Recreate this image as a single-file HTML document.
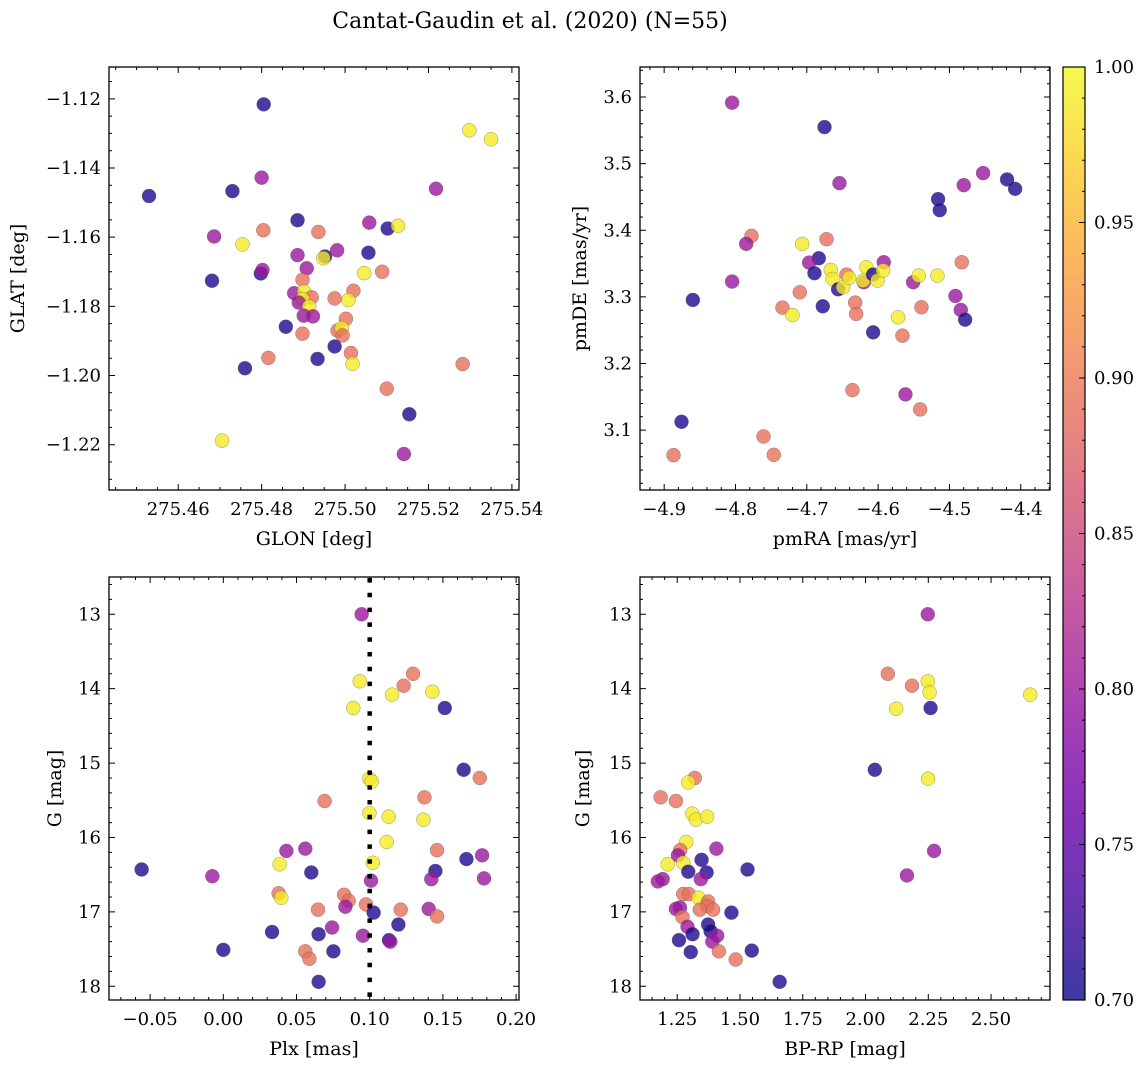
<!DOCTYPE html>
<html><head><meta charset="utf-8">
<style>
html,body{margin:0;padding:0;background:#fff;}
svg{display:block;font-family:"DejaVu Serif","Liberation Serif",serif;}
</style></head>
<body>
<svg id="fig" width="1148" height="1067" viewBox="0 0 1148 1067">
<defs>
<linearGradient id="plasma" x1="0" y1="1" x2="0" y2="0">
<stop offset="0" stop-color="#0d0887"/><stop offset="0.1" stop-color="#41049d"/>
<stop offset="0.2" stop-color="#6a00a8"/><stop offset="0.3" stop-color="#8f0da4"/>
<stop offset="0.4" stop-color="#b12a90"/><stop offset="0.5" stop-color="#cc4778"/>
<stop offset="0.6" stop-color="#e16462"/><stop offset="0.7" stop-color="#f2844b"/>
<stop offset="0.8" stop-color="#fca636"/><stop offset="0.9" stop-color="#fcce25"/>
<stop offset="1" stop-color="#f0f921"/>
</linearGradient>
</defs>
<text x="530" y="28" font-size="22" text-anchor="middle">Cantat-Gaudin et al. (2020) (N=55)</text>
</svg>
<script>
// ---- data: panel 1 (GLON / GLAT) ----
const glon = [275.4805,275.5298,275.5350,275.4800,275.5218,275.4530,275.4730,275.4886,275.4804,275.4936,275.4686,275.4754,275.5058,275.5102,275.5127,275.4886,275.4952,275.4948,275.4981,275.5056,275.4908,275.5046,275.5089,275.4681,275.4798,275.4802,275.4898,275.4878,275.4902,275.4920,275.4898,275.4889,275.4914,275.5020,275.4975,275.5008,275.4901,275.4923,275.5002,275.4858,275.4898,275.4982,275.4992,275.4994,275.4975,275.5014,275.4934,275.5018,275.4816,275.4760,275.5282,275.5100,275.5154,275.4705,275.5141];
const glat = [-1.1216,-1.1291,-1.1317,-1.1428,-1.1460,-1.1481,-1.1467,-1.1551,-1.1580,-1.1585,-1.1598,-1.1621,-1.1558,-1.1575,-1.1567,-1.1652,-1.1656,-1.1661,-1.1638,-1.1645,-1.1690,-1.1704,-1.1700,-1.1726,-1.1705,-1.1695,-1.1723,-1.1762,-1.1757,-1.1774,-1.1779,-1.1789,-1.1801,-1.1755,-1.1777,-1.1782,-1.1827,-1.1829,-1.1836,-1.1859,-1.1879,-1.1870,-1.1863,-1.1884,-1.1916,-1.1935,-1.1952,-1.1966,-1.1949,-1.1979,-1.1967,-1.2038,-1.2112,-1.2188,-1.2227];
const prob1 = [0.71,0.99,0.99,0.80,0.80,0.71,0.71,0.71,0.89,0.89,0.80,0.99,0.80,0.71,0.99,0.80,0.71,0.99,0.80,0.71,0.80,0.99,0.89,0.71,0.71,0.80,0.89,0.80,0.99,0.89,0.99,0.80,0.99,0.89,0.89,0.99,0.80,0.80,0.89,0.71,0.89,0.89,0.99,0.89,0.71,0.89,0.71,0.99,0.89,0.71,0.89,0.89,0.71,0.99,0.80];
// ---- data: panel 2 (pmRA / pmDE) ----
const pmra = [-4.8047,-4.6752,-4.6542,-4.4528,-4.4799,-4.5159,-4.5136,-4.4192,-4.4079,-4.7776,-4.7850,-4.8047,-4.8598,-4.6724,-4.7065,-4.6832,-4.6967,-4.6893,-4.7098,-4.7341,-4.7201,-4.6776,-4.6664,-4.6640,-4.6561,-4.6491,-4.6444,-4.6407,-4.6322,-4.6308,-4.6201,-4.6210,-4.6164,-4.6070,-4.6009,-4.5921,-4.5930,-4.6070,-4.5720,-4.5659,-4.5509,-4.5430,-4.5393,-4.5168,-4.4827,-4.4916,-4.4841,-4.4780,-4.6360,-4.5617,-4.5411,-4.8757,-4.8869,-4.7607,-4.7463];
const pmde = [3.5915,3.5549,3.4707,3.4858,3.4677,3.4467,3.4302,3.4763,3.4622,3.3916,3.3796,3.3230,3.2954,3.3866,3.3796,3.3580,3.3515,3.3355,3.3069,3.2839,3.2728,3.2859,3.3405,3.3270,3.3114,3.3144,3.3335,3.3285,3.2914,3.2744,3.3220,3.3245,3.3445,3.3335,3.3245,3.3520,3.3395,3.2468,3.2693,3.2418,3.3220,3.3320,3.2844,3.3320,3.3520,3.3014,3.2804,3.2658,3.1601,3.1536,3.1311,3.1125,3.0624,3.0905,3.0629];
const prob2 = [0.80,0.71,0.80,0.80,0.80,0.71,0.71,0.71,0.71,0.89,0.80,0.80,0.71,0.89,0.99,0.71,0.80,0.71,0.89,0.89,0.99,0.71,0.99,0.99,0.71,0.99,0.89,0.99,0.89,0.89,0.80,0.99,0.99,0.71,0.99,0.80,0.99,0.71,0.99,0.89,0.80,0.99,0.89,0.99,0.89,0.80,0.80,0.71,0.89,0.80,0.89,0.71,0.89,0.89,0.89];
// ---- data: panel 3 (Plx / G) ----
const plx = [0.0945,0.0932,0.0888,0.1296,0.1232,0.1153,0.1428,0.1513,0.1642,0.1752,0.0998,0.1014,0.0692,0.1374,0.0998,0.1130,0.1367,0.1116,0.1460,0.0431,0.0560,0.1661,0.1768,0.1021,0.0385,-0.0558,-0.0075,0.0601,0.1449,0.1421,0.1781,0.1009,0.0378,0.0396,0.0825,0.0856,0.0834,0.0975,0.0647,0.1027,0.1212,0.1403,0.1460,0.1196,0.0333,0.0651,0.0743,0.0954,0.1132,0.1141,0.0000,0.0560,0.0588,0.0752,0.0651];
const gmag3 = [13.00,13.90,14.26,13.80,13.96,14.08,14.04,14.26,15.09,15.20,15.21,15.25,15.51,15.46,15.67,15.72,15.76,16.06,16.17,16.18,16.15,16.29,16.24,16.34,16.36,16.43,16.52,16.47,16.45,16.56,16.55,16.58,16.75,16.81,16.77,16.85,16.93,16.90,16.97,17.01,16.97,16.96,17.06,17.17,17.27,17.30,17.21,17.32,17.38,17.40,17.51,17.53,17.63,17.53,17.94];
const prob3 = [0.80,0.99,0.99,0.89,0.89,0.99,0.99,0.71,0.71,0.89,0.99,0.99,0.89,0.89,0.99,0.99,0.99,0.99,0.89,0.80,0.80,0.71,0.80,0.99,0.99,0.71,0.80,0.71,0.71,0.80,0.80,0.80,0.89,0.99,0.89,0.89,0.80,0.89,0.89,0.71,0.89,0.80,0.89,0.71,0.71,0.71,0.80,0.80,0.71,0.80,0.71,0.89,0.89,0.71,0.71];
// ---- data: panel 4 (BP-RP / G) ----
const bprp = [2.248,2.089,2.185,2.248,2.255,2.656,2.122,2.259,2.037,2.249,1.320,1.294,1.184,1.245,1.310,1.324,1.369,1.286,1.406,1.262,1.253,1.347,1.212,1.274,1.294,1.367,1.530,1.344,1.192,1.173,2.273,2.165,1.274,1.296,1.335,1.373,1.369,1.340,1.393,1.466,1.245,1.261,1.271,1.373,1.383,1.291,1.311,1.409,1.390,1.257,1.304,1.416,1.483,1.547,1.658];
const gmag4 = [13.00,13.80,13.96,13.90,14.05,14.08,14.27,14.26,15.09,15.21,15.20,15.26,15.46,15.51,15.68,15.76,15.72,16.06,16.15,16.17,16.24,16.30,16.36,16.34,16.46,16.47,16.43,16.56,16.56,16.59,16.18,16.51,16.76,16.76,16.81,16.86,16.92,16.97,16.97,17.01,16.96,16.94,17.07,17.17,17.26,17.20,17.30,17.32,17.40,17.38,17.54,17.53,17.64,17.52,17.94];
const prob4 = [0.80,0.89,0.89,0.99,0.99,0.99,0.99,0.71,0.71,0.99,0.89,0.99,0.89,0.89,0.99,0.99,0.99,0.99,0.80,0.89,0.80,0.71,0.99,0.99,0.71,0.71,0.71,0.80,0.80,0.80,0.80,0.80,0.89,0.89,0.99,0.89,0.89,0.89,0.89,0.71,0.80,0.80,0.89,0.71,0.71,0.80,0.71,0.80,0.80,0.71,0.71,0.89,0.89,0.71,0.71];
// ---- tick labels ----
const xt1 = [275.46,275.48,275.50,275.52,275.54];
const yt1 = [-1.12,-1.14,-1.16,-1.18,-1.20,-1.22];
const xt2 = [-4.9,-4.8,-4.7,-4.6,-4.5,-4.4];
const yt2 = [3.1,3.2,3.3,3.4,3.5,3.6];
const xt3 = [-0.05,0.00,0.05,0.10,0.15,0.20];
const yt34 = [13,14,15,16,17,18];
const xt4 = [1.25,1.50,1.75,2.00,2.25,2.50];
const cbt = [0.70,0.75,0.80,0.85,0.90,0.95,1.00];
const plxCut = 0.10;

const NS="http://www.w3.org/2000/svg";
const svg=document.getElementById('fig');
function mk(tag,attrs,parent){const e=document.createElementNS(NS,tag);for(const k in attrs)e.setAttribute(k,attrs[k]);(parent||svg).appendChild(e);return e;}
const stops=[[13,8,135],[65,4,157],[106,0,168],[143,13,164],[177,42,144],[204,71,120],[225,100,98],[242,132,75],[252,166,54],[252,206,37],[240,249,33]];
function plasma(p){let t=(p-0.7)/0.3;t=Math.max(0,Math.min(1,t))*10;const i=Math.min(9,Math.floor(t)),f=t-i;const a=stops[i],b=stops[i+1];return 'rgb('+a.map((v,k)=>Math.round(v+(b[k]-v)*f)).join(',')+')';}
function lin(d0,d1,r0,r1){return v=>r0+(v-d0)/(d1-d0)*(r1-r0);}
const TF=18, LF=19;

function panel(name,L,T,R,B,xd,yd,xticks,xminor,xfmt,yticks,yminor,yfmt,xs,ys,ps,xlabel,ylabel,ylabX,extra){
  const g=mk('g',{});
  
  
  const sx=lin(xd[0],xd[1],L,R), sy=lin(yd[0],yd[1],B,T);
  const pg=mk('g',{},g);
  
  
  for(let i=0;i<xs.length;i++){
    const c=mk('circle',{cx:sx(xs[i]),cy:sy(ys[i]),r:7,fill:plasma(ps[i]),'fill-opacity':0.8,stroke:'#555','stroke-opacity':0.6,'stroke-width':0.5},pg);
    
    
  }
  if(extra) extra(g,sx,sy);
  const fr=mk('rect',{x:L,y:T,width:R-L,height:B-T,fill:'none',stroke:'#000','stroke-width':1.3},g);
  
  
  let d='';
  const lo=Math.min(xd[0],xd[1]),hi=Math.max(xd[0],xd[1]);
  for(let v=Math.ceil(lo/xminor-1e-6)*xminor;v<=hi+1e-9;v+=xminor){const x=sx(v);const maj=xticks.some(t=>Math.abs(t-v)<xminor/10);const len=maj?6:3;d+=`M${x},${B}v${-len}M${x},${T}v${len}`;}
  const ylo=Math.min(yd[0],yd[1]),yhi=Math.max(yd[0],yd[1]);
  for(let v=Math.ceil(ylo/yminor-1e-6)*yminor;v<=yhi+1e-9;v+=yminor){const y=sy(v);const maj=yticks.some(t=>Math.abs(t-v)<yminor/10);const len=maj?6:3;d+=`M${L},${y}h${len}M${R},${y}h${-len}`;}
  const tp=mk('path',{d:d,stroke:'#000','stroke-width':1,fill:'none'},g);
  
  
  xticks.forEach(v=>{const t=mk('text',{x:sx(v),y:B+25,'font-size':TF,'text-anchor':'middle'},g);t.textContent=xfmt(v);
    
    });
  yticks.forEach(v=>{const t=mk('text',{x:L-8,y:sy(v)+6,'font-size':TF,'text-anchor':'end'},g);t.textContent=yfmt(v);
    
    });
  const xl=mk('text',{x:(L+R)/2,y:B+55,'font-size':LF,'text-anchor':'middle'},g);xl.textContent=xlabel;
  
  
  const yc=(T+B)/2;
  const yl=mk('text',{x:ylabX,y:yc,'font-size':LF,'text-anchor':'middle',transform:`rotate(-90 ${ylabX} ${yc})`},g);yl.textContent=ylabel;
  
  
}
const minus=s=>s.replace('-','\u2212');
panel('panel-glon-glat',109,67,519,490,[275.4434,275.5417],[-1.2331,-1.1108],xt1,0.005,v=>v.toFixed(2),yt1,0.005,v=>minus(v.toFixed(2)),glon,glat,prob1,'GLON [deg]','GLAT [deg]',24);
panel('panel-pmra-pmde',640,67,1050,490,[-4.9339,-4.3590],[3.0101,3.6451],xt2,0.02,v=>minus(v.toFixed(1)),yt2,0.02,v=>v.toFixed(1),pmra,pmde,prob2,'pmRA [mas/yr]','pmDE [mas/yr]',586);
panel('panel-plx-g',109,577,519,1000,[-0.0781,0.2020],[18.184,12.499],xt3,0.01,v=>minus(v.toFixed(2)),yt34,0.2,v=>String(v),plx,gmag3,prob3,'Plx [mas]','G [mag]',61,
  (g,sx,sy)=>{const l=mk('line',{x1:sx(plxCut),x2:sx(plxCut),y1:578,y2:999,stroke:'#000','stroke-width':4.5,'stroke-dasharray':'4.5,10.3'},g);
    
    });
panel('panel-bprp-g',640,577,1050,1000,[1.1018,2.7347],[18.184,12.499],xt4,0.05,v=>v.toFixed(2),yt34,0.2,v=>String(v),bprp,gmag4,prob4,'BP-RP [mag]','G [mag]',589);

const cb=mk('g',{});


mk('rect',{x:1063,y:67,width:22,height:933,fill:'url(#plasma)','fill-opacity':0.8},cb);
mk('rect',{x:1063,y:67,width:22,height:933,fill:'none',stroke:'#000','stroke-width':1.2},cb);
const cs=lin(0.70,1.00,1000,67);
let cd='';
for(let k=0;k<=30;k++){const v=0.70+k*0.01;const y=cs(v);const maj=k%5===0;cd+=`M1085,${y}h${maj?-6:-3}`;}
mk('path',{d:cd,stroke:'#000','stroke-width':1},cb);
cbt.forEach(v=>{const t=mk('text',{x:1094,y:cs(v)+6,'font-size':TF},cb);t.textContent=v.toFixed(2);
  
  });
</script>
</body></html>
